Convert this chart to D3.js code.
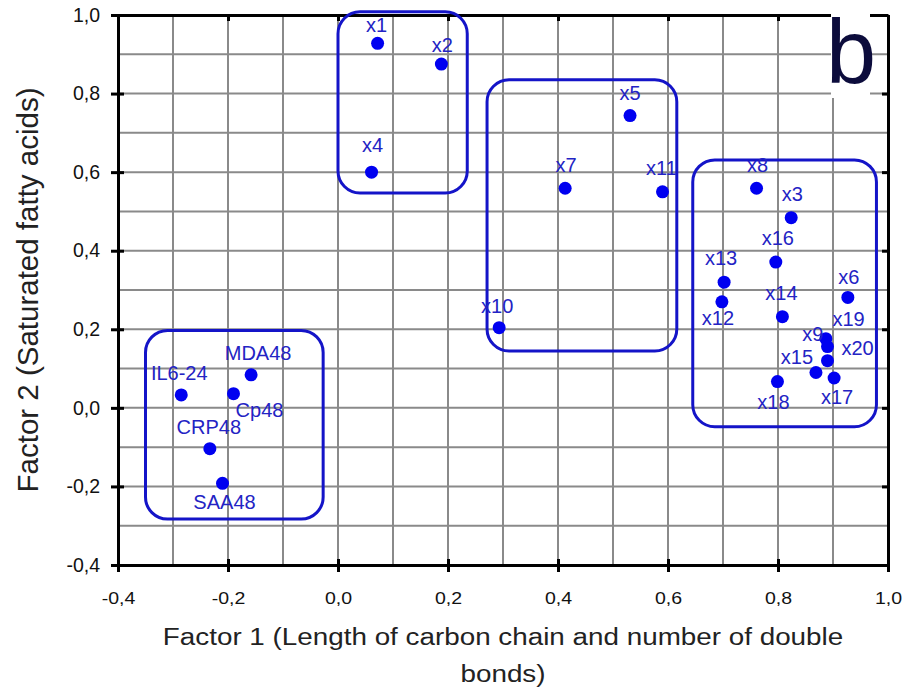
<!DOCTYPE html>
<html>
<head>
<meta charset="utf-8">
<script src="https://cdn.jsdelivr.net/npm/d3@7"></script>
<style>
  body { margin: 0; background: #fff; }
  text { font-family: "Liberation Sans", Arial, sans-serif; }
</style>
</head>
<body>
<div id="chart"></div>
<script>
// loadings
var labels = ["x1", "x2", "x4", "x5", "x7", "x11", "x10", "x8", "x3", "x16", "x13", "x12", "x6", "x14",
    "x9", "x19", "x20", "x15", "x17", "x18", "IL6-24", "MDA48", "Cp48", "CRP48", "SAA48"];
var factor1 = [0.072, 0.188, 0.061, 0.531, 0.413, 0.590, 0.293, 0.761, 0.824, 0.796, 0.702, 0.698, 0.927, 0.808,
    0.887, 0.890, 0.890, 0.869, 0.902, 0.799, -0.285, -0.158, -0.190, -0.233, -0.210];
var factor2 = [0.928, 0.875, 0.600, 0.744, 0.559, 0.550, 0.204, 0.559, 0.484, 0.371, 0.320, 0.270, 0.281, 0.232,
    0.176, 0.156, 0.120, 0.090, 0.076, 0.067, 0.033, 0.084, 0.036, -0.104, -0.192];

// cluster boxes, in factor units: [x0, x1, y0, y1]
var clusters = [
    [0.000, 0.235, 0.547, 1.008],
    [0.271, 0.616, 0.145, 0.835],
    [0.645, 0.979, -0.048, 0.631],
    [-0.350, -0.027, -0.283, 0.197]
];

var xTicks = [-0.4, -0.2, 0.0, 0.2, 0.4, 0.6, 0.8, 1.0];
var yTicks = [-0.4, -0.2, 0.0, 0.2, 0.4, 0.6, 0.8, 1.0];

// label placement around each point (px)
var labelOffsets = [[-1, -11], [1, -12], [1, -20], [0, -16], [1, -16], [-1, -17], [-2, -15], [1, -16], [1, -17],
    [2, -17], [-3, -17], [-4, 23], [1, -13], [-1, -17], [-13, 2], [21, -21], [30, -6], [-19, -9], [3, 26],
    [-4, 27], [-2, -15], [7, -15], [26, 23], [-1, -15], [2, 26]];

var width = 906,
    height = 697,
    margin = { top: 15, right: 18, bottom: 132, left: 118 };

var svg = d3.select("#chart")
    .append("svg")
    .attr("width", width)
    .attr("height", height);

var x = d3.scaleLinear().domain([-0.4, 1.0]).range([margin.left, width - margin.right]);
var y = d3.scaleLinear().domain([-0.4, 1.0]).range([height - margin.bottom, margin.top]);
var fmt = function(d) { return d3.format(".1f")(d).replace(".", ",").replace("−", "-"); };

// grid every 0.1
var gridVals = d3.range(-3, 10).map(function(i) { return i / 10; });
svg.append("g")
    .selectAll("line")
    .data(gridVals)
    .enter().append("line")
    .attr("x1", function(d) { return x(d); })
    .attr("x2", function(d) { return x(d); })
    .attr("y1", y(1.0))
    .attr("y2", y(-0.4))
    .attr("stroke", "#8a8a8a")
    .attr("stroke-width", 2);
svg.append("g")
    .selectAll("line")
    .data(gridVals)
    .enter().append("line")
    .attr("y1", function(d) { return y(d); })
    .attr("y2", function(d) { return y(d); })
    .attr("x1", x(-0.4))
    .attr("x2", x(1.0))
    .attr("stroke", "#8a8a8a")
    .attr("stroke-width", 2);

// axes, ticks crossing on left / bottom, inside on top / right
var axBottom = svg.append("g")
    .attr("transform", "translate(0," + y(-0.4) + ")")
    .call(d3.axisBottom(x).tickValues(xTicks).tickFormat(fmt).tickSizeInner(7).tickSizeOuter(0));
var axLeft = svg.append("g")
    .attr("transform", "translate(" + x(-0.4) + ",0)")
    .call(d3.axisLeft(y).tickValues(yTicks).tickFormat(fmt).tickSizeInner(7).tickSizeOuter(0).tickPadding(11));
var axTop = svg.append("g")
    .attr("transform", "translate(0," + y(1.0) + ")")
    .call(d3.axisBottom(x).tickValues(xTicks).tickFormat("").tickSizeInner(6).tickSizeOuter(0));
var axRight = svg.append("g")
    .attr("transform", "translate(" + x(1.0) + ",0)")
    .call(d3.axisLeft(y).tickValues(yTicks).tickFormat("").tickSizeInner(6).tickSizeOuter(0));

// bottom labels are a little wide in the source figure
axBottom.selectAll(".tick text")
    .style("font-size", "16px")
    .attr("fill", "#111")
    .attr("dy", null)
    .attr("y", 39)
    .attr("transform", "scale(1.22,1)");
axLeft.selectAll(".tick text")
    .style("font-size", "19.5px")
    .attr("fill", "#111");
axBottom.selectAll(".tick line").attr("y1", -6);
axLeft.selectAll(".tick line").attr("x1", 6);
[axBottom, axLeft, axTop, axRight].forEach(function(g) {
    g.selectAll(".tick line").attr("stroke-width", 3);
    g.select(".domain").attr("stroke-width", 3).attr("stroke", "#000");
});

// axis titles
var midX = (x(-0.4) + x(1.0)) / 2;
svg.append("text")
    .attr("transform", "translate(" + midX + ",645) scale(1.21,1)")
    .attr("text-anchor", "middle")
    .style("font-size", "23px")
    .attr("fill", "#222")
    .text("Factor 1 (Length of carbon chain and number of double");
svg.append("text")
    .attr("transform", "translate(" + midX + ",682) scale(1.21,1)")
    .attr("text-anchor", "middle")
    .style("font-size", "23px")
    .attr("fill", "#222")
    .text("bonds)");
svg.append("text")
    .attr("transform", "translate(38," + (y(1.0) + y(-0.4)) / 2 + ") rotate(-90)")
    .attr("text-anchor", "middle")
    .style("font-size", "29.5px")
    .attr("fill", "#222")
    .text("Factor 2 (Saturated fatty acids)");

// cluster boxes
svg.append("g")
    .selectAll("rect")
    .data(clusters)
    .enter().append("rect")
    .attr("x", function(d) { return x(d[0]); })
    .attr("y", function(d) { return y(d[3]); })
    .attr("width", function(d) { return x(d[1]) - x(d[0]); })
    .attr("height", function(d) { return y(d[2]) - y(d[3]); })
    .attr("rx", 22)
    .attr("fill", "none")
    .attr("stroke", "#1414c8")
    .attr("stroke-width", 3);

// points and labels
var pts = labels.map(function(l, i) { return { key: l, f1: factor1[i], f2: factor2[i], off: labelOffsets[i] }; });
svg.append("g")
    .selectAll("circle")
    .data(pts)
    .enter().append("circle")
    .attr("cx", function(d) { return x(d.f1); })
    .attr("cy", function(d) { return y(d.f2); })
    .attr("r", 6.5)
    .attr("fill", "#0000f0");
svg.append("g")
    .selectAll("text")
    .data(pts)
    .enter().append("text")
    .attr("x", function(d) { return x(d.f1) + d.off[0]; })
    .attr("y", function(d) { return y(d.f2) + d.off[1]; })
    .attr("text-anchor", "middle")
    .style("font-size", "20px")
    .attr("fill", "#2323c4")
    .text(function(d) { return d.key; });

// panel letter on a white patch
svg.append("rect")
    .attr("x", 831)
    .attr("y", 5)
    .attr("width", 39)
    .attr("height", 93)
    .attr("fill", "#fff");
svg.append("text")
    .attr("x", 851)
    .attr("y", 83)
    .attr("text-anchor", "middle")
    .style("font-size", "90px")
    .attr("fill", "#0c0c3c")
    .text("b");
</script>
</body>
</html>
